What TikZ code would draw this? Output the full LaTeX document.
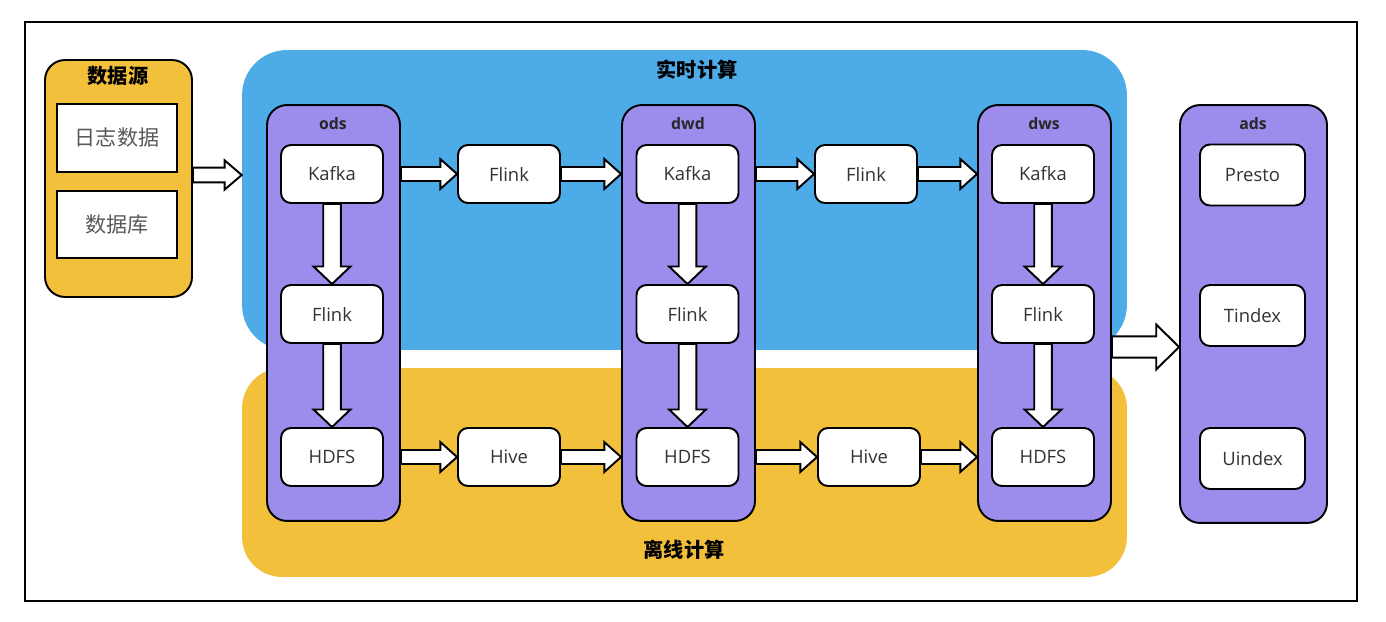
\documentclass[tikz,border=0pt]{standalone}
\usepackage{fontspec}
\setmainfont{Open Sans}
\newfontfamily\cjk{Noto Sans CJK SC}
\usetikzlibrary{calc}
\definecolor{rtblue}{RGB}{77,171,232}
\definecolor{offyel}{RGB}{242,192,58}
\definecolor{layerpur}{RGB}{156,141,236}
\tikzset{
  region/.style={rectangle, rounded corners=0.9cm, inner sep=0pt},
  layer/.style={rectangle, draw, line width=1.1pt, fill=layerpur, rounded corners=0.4cm,
    minimum width=2.66cm, minimum height=8.32cm, inner sep=0pt},
  comp/.style={rectangle, draw, line width=1.1pt, fill=white, rounded corners=0.2cm,
    minimum width=2.04cm, minimum height=1.16cm, inner sep=0pt, font=\fontsize{10.5}{12}\selectfont, text=black!80},
  srcbox/.style={rectangle, draw, line width=1.1pt, fill=white, minimum width=2.4cm,
    minimum height=1.35cm, inner sep=0pt, font=\cjk\fontsize{12}{14}\selectfont, text=black!65},
  ttl/.style={font=\bfseries\fontsize{9}{11}\selectfont, text=black!85},
  cttl/.style={font=\cjk\bfseries\fontsize{11.5}{13}\selectfont},
  hollow/.style={draw, line width=1.1pt, fill=white, line join=miter}
}
% block arrows: from, to, half shaft, half head, head length
\newcommand{\harr}[5]{%
  \draw[hollow] let \p1=(#1), \p2=(#2) in
    (\x1,\y1+#3) -- (\x2-#5,\y1+#3) -- (\x2-#5,\y1+#4) -- (\x2,\y1)
    -- (\x2-#5,\y1-#4) -- (\x2-#5,\y1-#3) -- (\x1,\y1-#3) -- cycle;}
\newcommand{\varr}[5]{%
  \draw[hollow] let \p1=(#1), \p2=(#2) in
    (\x1-#3,\y1) -- (\x1-#3,\y2+#5) -- (\x1-#4,\y2+#5) -- (\x1,\y2)
    -- (\x1+#4,\y2+#5) -- (\x1+#3,\y2+#5) -- (\x1+#3,\y1) -- cycle;}
\begin{document}
\begin{tikzpicture}[x=0.02cm, y=-0.02cm]
    \useasboundingbox (0,0) rectangle (1386,622);
    \draw[line width=1.2pt] (25,22) rectangle (1357,601);

    % regions
    \node[region, fill=rtblue, minimum width=17.7cm, minimum height=6cm] (rt) at (684.5,200) {};
    \node[region, fill=offyel, rounded corners=0.8cm, minimum width=17.7cm, minimum height=4.18cm] (off) at (684.5,472.5) {};
    \node[cttl] (rtl) at (697,70) {实时计算};
    \node[cttl] (offl) at (684,550) {离线计算};

    % data source
    \node[rectangle, draw, line width=1.1pt, fill=offyel, rounded corners=0.4cm,
      minimum width=2.94cm, minimum height=4.74cm] (src) at (118.5,178.5) {};
    \node[cttl] (srcl) at (118,76) {数据源};
    \node[srcbox] (log) at (117,138) {日志数据};
    \node[srcbox] (db) at (117,224.5) {数据库};

    % layers
    \node[layer] (ods) at (333.5,313) {};
    \node[layer] (dwd) at (688.5,313) {};
    \node[layer] (dws) at (1044.5,313) {};
    \node[layer, minimum width=2.94cm, minimum height=8.36cm] (ads) at (1253.5,314) {};
    \node[ttl] at (333,124) {ods};
    \node[ttl] at (688,124) {dwd};
    \node[ttl] at (1044,124) {dws};
    \node[ttl] at (1253,124) {ads};

    % components
    \foreach \l/\x in {o/332, d/687.5, s/1043}{
      \node[comp] (\l kafka) at (\x,174) {Kafka};
      \node[comp] (\l flink) at (\x,314) {Flink};
      \node[comp] (\l hdfs) at (\x,457) {HDFS};
    }
    \node[comp] (flinkA) at (509,174) {Flink};
    \node[comp] (flinkB) at (866,174) {Flink};
    \node[comp] (hiveA) at (509,457) {Hive};
    \node[comp] (hiveB) at (869,457) {Hive};
    \node[comp, minimum width=2.1cm, minimum height=1.22cm] (presto) at (1252.5,175) {Presto};
    \node[comp, minimum width=2.1cm, minimum height=1.22cm] (tindex) at (1252.5,315.5) {Tindex};
    \node[comp, minimum width=2.1cm, minimum height=1.22cm] (uindex) at (1252.5,458.5) {Uindex};

    % arrows
    \harr{src.east |- 0,175}{rt.west |- 0,175}{4.2pt}{8.3pt}{9.7pt}
    \foreach \l in {o,d,s}{
      \varr{\l kafka.south}{\l flink.north}{5pt}{10.5pt}{10pt}
      \varr{\l flink.south}{\l hdfs.north}{5pt}{10.5pt}{10pt}
    }
    \harr{ods.east |- okafka}{flinkA.west}{4pt}{8.5pt}{9.5pt}
    \harr{flinkA.east}{dwd.west |- flinkA}{4pt}{8.5pt}{9.5pt}
    \harr{dwd.east |- dkafka}{flinkB.west}{4pt}{8.5pt}{9.5pt}
    \harr{flinkB.east}{dws.west |- flinkB}{4pt}{8.5pt}{9.5pt}
    \harr{ods.east |- ohdfs}{hiveA.west}{4pt}{8.5pt}{9.5pt}
    \harr{hiveA.east}{dwd.west |- hiveA}{4pt}{8.5pt}{9.5pt}
    \harr{dwd.east |- dhdfs}{hiveB.west}{4pt}{8.5pt}{9.5pt}
    \harr{hiveB.east}{dws.west |- hiveB}{4pt}{8.5pt}{9.5pt}
    \harr{dws.east |- 0,347}{ads.west |- 0,347}{6pt}{12.8pt}{13pt}
\end{tikzpicture}
\end{document}
